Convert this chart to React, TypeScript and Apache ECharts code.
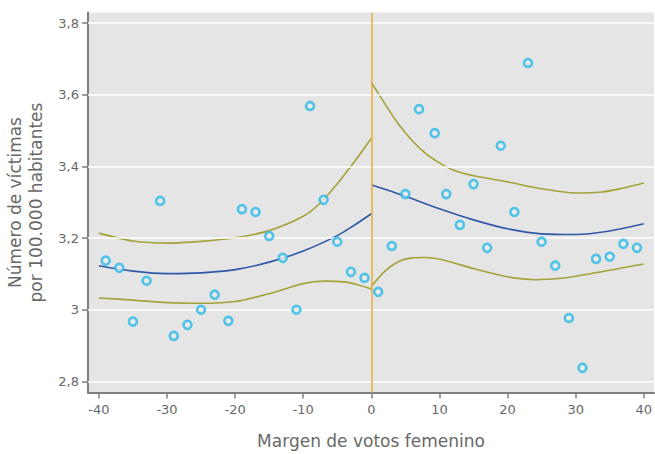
import React, { useEffect, useRef } from "react";
import * as echarts from "echarts";

const xTicks = [-40, -30, -20, -10, 0, 10, 20, 30, 40];
const yTicks = [2.8, 3.0, 3.2, 3.4, 3.6, 3.8];

const pointX = [-39, -37, -35, -33, -31, -29, -27, -25, -23, -21, -19, -17, -15, -13, -11, -9, -7, -5, -3, -1,
  1, 3, 5, 7, 9.3, 11, 13, 15, 17, 19, 21, 23, 25, 27, 29, 31, 33, 35, 37, 39];
const pointY = [3.137, 3.117, 2.967, 3.081, 3.304, 2.927, 2.958, 3.0, 3.042, 2.969, 3.281, 3.273, 3.206, 3.145, 3.0, 3.569, 3.307, 3.190, 3.106, 3.089,
  3.050, 3.178, 3.323, 3.560, 3.493, 3.323, 3.237, 3.351, 3.173, 3.458, 3.273, 3.689, 3.190, 3.123, 2.977, 2.838, 3.142, 3.148, 3.184, 3.173];

const leftUpper: [number, number][] = [[-40, 3.214], [-35, 3.192], [-30, 3.186], [-25, 3.191], [-20, 3.201], [-15, 3.221], [-10, 3.261], [-7.5, 3.298], [-5, 3.352], [-2.5, 3.413], [0, 3.479]];
const leftMean: [number, number][] = [[-40, 3.123], [-35, 3.108], [-30, 3.101], [-25, 3.103], [-20, 3.112], [-15, 3.133], [-10, 3.164], [-5, 3.207], [-2.5, 3.236], [0, 3.268]];
const leftLower: [number, number][] = [[-40, 3.033], [-35, 3.027], [-30, 3.02], [-25, 3.018], [-20, 3.023], [-15, 3.045], [-10, 3.073], [-7, 3.08], [-4, 3.078], [-2, 3.07], [0, 3.058]];
const rightUpper: [number, number][] = [[0, 3.635], [2, 3.575], [4, 3.518], [6, 3.472], [8, 3.436], [10, 3.41], [12, 3.39], [15, 3.374], [20, 3.357], [25, 3.338], [30, 3.326], [33.5, 3.328], [37, 3.34], [40, 3.354]];
const rightMean: [number, number][] = [[0, 3.349], [5, 3.317], [10, 3.282], [15, 3.251], [20, 3.226], [25, 3.212], [30, 3.21], [35, 3.22], [40, 3.24]];
const rightLower: [number, number][] = [[0, 3.065], [2, 3.108], [4, 3.135], [6, 3.145], [8, 3.146], [11, 3.137], [15, 3.115], [20, 3.092], [24, 3.084], [28, 3.088], [32, 3.1], [36, 3.114], [40, 3.128]];

const xTitle = "Margen de votos femenino";
const yTitle = "Número de víctimas\npor 100.000 habitantes";

const FONT = "DejaVu Sans";
const TXT = "#686868";
const AXC = "#7f7f7f";
const GREEN = "#a3a33a";
const BLUE = "#2f58a8";
const DOT = "#29b9e9";
const VLINE = "#e9a83a";

function fmt(v: number) {
  return String(Math.round(v * 10) / 10).replace(".", ",");
}

export default function App() {
  const ref = useRef<HTMLDivElement>(null);
  useEffect(() => {
    if (!ref.current) return;
    const chart = echarts.init(ref.current, null, { renderer: "svg" });
    const curve = (data: [number, number][], color: string) => ({
      type: "line",
      data,
      smooth: 0.3,
      symbol: "none",
      silent: true,
      lineStyle: { color, width: 1.6 },
      z: 3,
    });
    chart.setOption({
      animation: false,
      backgroundColor: "#ffffff",
      grid: {
        left: 88, right: 1, top: 12.5, bottom: 61.5, show: true, backgroundColor: "#e5e5e5", borderWidth: 0,
        containLabel: false, outerBoundsMode: "none",
      },
      xAxis: {
        type: "value",
        min: -41.6,
        max: 41.5,
        name: xTitle,
        nameLocation: "middle",
        nameGap: 40,
        nameTextStyle: { fontFamily: FONT, fontSize: 17, color: TXT },
        axisLine: { show: true, onZero: false, lineStyle: { color: AXC, width: 2 } },
        axisTick: { show: true, length: 6, customValues: xTicks, lineStyle: { color: AXC, width: 1.5 } },
        axisLabel: { customValues: xTicks, fontFamily: FONT, fontSize: 13, color: TXT, margin: 10, formatter: (v: number) => String(v) },
        splitLine: { show: false },
      },
      yAxis: {
        type: "value",
        min: 2.769,
        max: 3.83,
        name: yTitle,
        nameLocation: "middle",
        nameGap: 42,
        nameTextStyle: { fontFamily: FONT, fontSize: 17, color: TXT, lineHeight: 21 },
        axisLine: { show: true, onZero: false, lineStyle: { color: AXC, width: 2 } },
        axisTick: { show: true, length: 6, customValues: yTicks, lineStyle: { color: AXC, width: 1.5 } },
        axisLabel: { customValues: yTicks, fontFamily: FONT, fontSize: 13, color: TXT, margin: 9, formatter: (v: number) => fmt(v) },
        splitLine: { show: false },
      },
      series: [
        {
          type: "line",
          data: [],
          silent: true,
          markLine: {
            silent: true,
            symbol: "none",
            label: { show: false },
            lineStyle: { color: "#ffffff", width: 1.5, type: "solid" },
            data: yTicks.map((v) => ({ yAxis: v })),
          },
          z: 1,
        },
        {
          type: "line",
          data: [],
          silent: true,
          markLine: {
            silent: true,
            symbol: "none",
            label: { show: false },
            lineStyle: { color: VLINE, width: 1.5, type: "solid" },
            data: [{ xAxis: 0 }],
          },
          z: 2,
        },
        curve(leftUpper, GREEN),
        curve(leftLower, GREEN),
        curve(leftMean, BLUE),
        curve(rightUpper, GREEN),
        curve(rightLower, GREEN),
        curve(rightMean, BLUE),
        {
          type: "scatter",
          data: pointX.map((x, i) => [x, pointY[i]]),
          symbol: "circle",
          symbolSize: 8,
          itemStyle: { color: "#ebebeb", borderColor: DOT, borderWidth: 2.6 },
          z: 5,
        },
      ],
    });
    return () => chart.dispose();
  }, []);
  return <div ref={ref} style={{ width: 655, height: 454, position: "absolute", left: 0, top: 0 }} />;
}
